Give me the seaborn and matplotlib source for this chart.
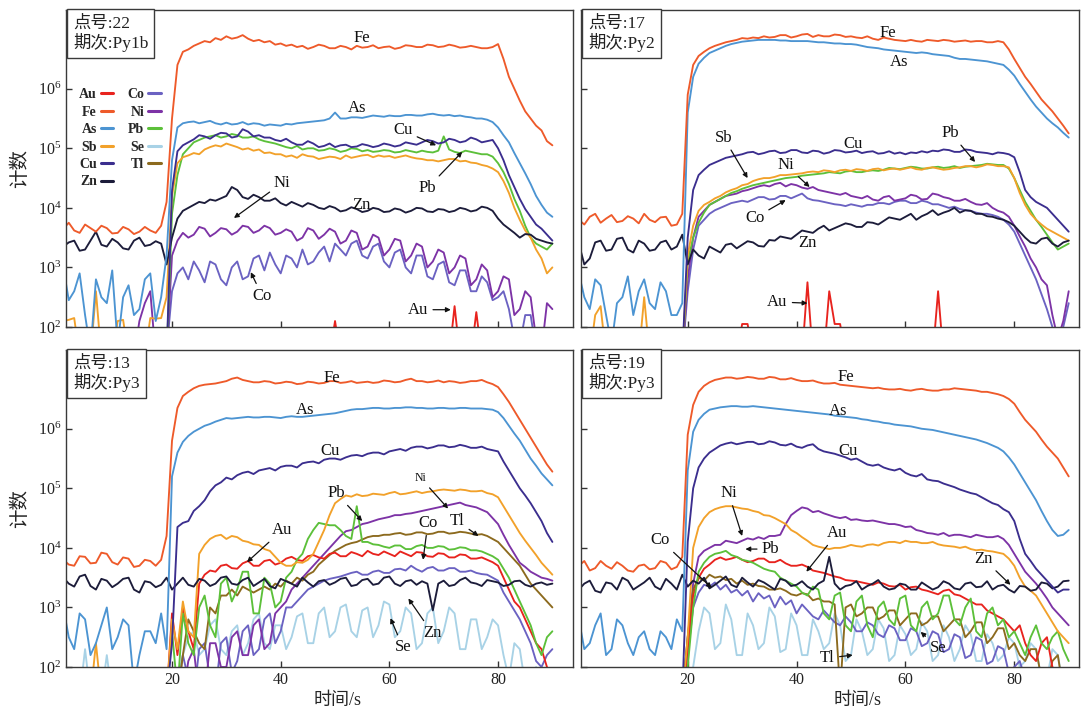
import numpy as np
import matplotlib
matplotlib.use("Agg")
import matplotlib.pyplot as plt
import seaborn as sns
from matplotlib.lines import Line2D
from matplotlib.ticker import NullLocator

# Time axis (s)
T = [0, 1, 2, 3, 4, 5, 6, 7, 8, 9, 10, 11, 12, 13, 14, 15, 16, 17, 18, 19,
     20, 21, 22, 23, 24, 25, 26, 27, 28, 29, 30, 31, 32, 33, 34, 35, 36, 37, 38, 39,
     40, 41, 42, 43, 44, 45, 46, 47, 48, 49, 50, 51, 52, 53, 54, 55, 56, 57, 58, 59,
     60, 61, 62, 63, 64, 65, 66, 67, 68, 69, 70, 71, 72, 73, 74, 75, 76, 77, 78, 79,
     80, 81, 82, 83, 84, 85, 86, 87, 88, 89, 90]

# All series are log10(counts); 1.5 = below the 10^2 floor

# ---- 点号 22 / Py1b ----
AU_22 = [1.5, 1.5, 1.5, 1.5, 1.5, 1.5, 1.5, 1.5, 1.5, 1.5,
         1.5, 1.5, 1.5, 1.5, 1.5, 1.5, 1.5, 1.5, 1.5, 1.5,
         1.5, 1.5, 1.5, 1.5, 1.5, 1.5, 1.5, 1.5, 1.5, 1.5,
         1.5, 1.5, 1.5, 1.5, 1.5, 1.5, 1.5, 1.5, 1.5, 1.5,
         1.5, 1.5, 1.5, 1.5, 1.5, 1.5, 1.5, 1.5, 1.5, 1.5,
         2.10, 1.5, 1.5, 1.5, 1.5, 1.5, 1.5, 1.5, 1.5, 1.5,
         1.5, 1.5, 1.5, 1.5, 1.5, 1.5, 1.5, 1.5, 1.5, 1.5,
         1.5, 1.5, 2.35, 1.5, 1.5, 1.5, 2.25, 1.5, 1.5, 1.5,
         1.5, 1.5, 1.5, 1.5, 1.5, 1.5, 1.5, 1.5, 1.5, 1.5, 1.5]
FE_22 = [3.65, 3.75, 3.62, 3.58, 3.72, 3.66, 3.60, 3.70, 3.66, 3.57,
         3.58, 3.68, 3.64, 3.56, 3.60, 3.68, 3.62, 3.58, 3.70, 4.10,
         5.50, 6.40, 6.62, 6.66, 6.72, 6.76, 6.80, 6.78, 6.85, 6.82,
         6.88, 6.84, 6.86, 6.90, 6.84, 6.80, 6.82, 6.78, 6.80, 6.74,
         6.76, 6.72, 6.74, 6.70, 6.72, 6.67, 6.70, 6.74, 6.72, 6.68,
         6.68, 6.72, 6.70, 6.66, 6.72, 6.69, 6.70, 6.73, 6.68, 6.70,
         6.71, 6.67, 6.69, 6.73, 6.72, 6.70, 6.70, 6.74, 6.73, 6.70,
         6.71, 6.74, 6.72, 6.69, 6.70, 6.72, 6.70, 6.68, 6.68, 6.70,
         6.75, 6.50, 6.20, 6.00, 5.80, 5.62, 5.50, 5.38, 5.30, 5.12, 5.05]
AS_22 = [3.00, 2.45, 2.60, 2.90, 2.20, 1.60, 2.80, 2.50, 2.40, 2.95,
         1.70, 2.50, 2.70, 2.20, 2.30, 2.80, 2.90, 2.10, 2.50, 3.20,
         4.80, 5.35, 5.42, 5.44, 5.45, 5.42, 5.44, 5.46, 5.42, 5.40,
         5.43, 5.40, 5.41, 5.44, 5.40, 5.42, 5.41, 5.38, 5.40, 5.39,
         5.38, 5.41, 5.40, 5.42, 5.43, 5.44, 5.45, 5.46, 5.47, 5.50,
         5.60, 5.50, 5.50, 5.52, 5.52, 5.51, 5.53, 5.55, 5.54, 5.53,
         5.55, 5.54, 5.54, 5.56, 5.56, 5.55, 5.55, 5.57, 5.58, 5.56,
         5.55, 5.56, 5.54, 5.55, 5.53, 5.52, 5.50, 5.50, 5.48, 5.44,
         5.35, 5.22, 5.10, 4.92, 4.75, 4.58, 4.40, 4.20, 4.05, 3.92, 3.85]
SB_22 = [2.10, 2.12, 2.15, 1.50, 1.50, 1.50, 2.60, 1.50, 1.50, 1.50,
         2.10, 2.12, 1.50, 1.50, 1.50, 1.50, 2.15, 2.14, 2.15, 2.50,
         4.20, 4.75, 4.85, 4.88, 4.92, 4.90, 4.98, 5.02, 5.05, 5.03,
         5.08, 5.05, 5.02, 4.98, 5.00, 4.96, 4.98, 4.92, 4.93, 4.90,
         4.90, 4.86, 4.88, 4.84, 4.90, 4.87, 4.86, 4.82, 4.84, 4.86,
         4.85, 4.82, 4.88, 4.84, 4.86, 4.88, 4.89, 4.85, 4.88, 4.86,
         4.87, 4.84, 4.86, 4.88, 4.85, 4.83, 4.82, 4.80, 4.80, 4.78,
         4.80, 4.82, 4.82, 4.78, 4.79, 4.76, 4.75, 4.72, 4.70, 4.66,
         4.60, 4.45, 4.25, 4.00, 3.80, 3.62, 3.50, 3.30, 3.15, 2.90, 3.00]
CU_22 = [1.5, 1.5, 1.5, 1.5, 1.5, 1.5, 1.5, 1.5, 1.5, 1.5,
         1.5, 1.5, 1.5, 1.5, 1.5, 1.5, 1.5, 1.5, 1.5, 1.5,
         4.30, 4.95, 5.05, 5.10, 5.15, 5.22, 5.20, 5.16, 5.22, 5.26,
         5.25, 5.18, 5.20, 5.32, 5.28, 5.20, 5.22, 5.18, 5.18, 5.14,
         5.12, 5.16, 5.10, 5.06, 5.06, 5.12, 5.08, 5.02, 5.04, 5.08,
         5.02, 5.05, 5.06, 5.02, 5.03, 5.07, 5.05, 5.02, 5.04, 5.08,
         5.06, 5.03, 5.05, 5.10, 5.08, 5.06, 5.10, 5.14, 5.12, 5.08,
         5.10, 5.16, 5.14, 5.10, 5.12, 5.18, 5.15, 5.10, 5.12, 5.14,
         5.00, 4.80, 4.55, 4.35, 4.15, 3.98, 3.85, 3.72, 3.65, 3.55, 3.45]
ZN_22 = [3.35, 3.42, 3.45, 3.28, 3.30, 3.45, 3.60, 3.38, 3.35, 3.48,
         3.42, 3.32, 3.30, 3.45, 3.50, 3.36, 3.38, 3.44, 3.40, 3.05,
         3.50, 3.82, 3.95, 4.00, 4.05, 4.10, 4.08, 4.14, 4.12, 4.16,
         4.20, 4.35, 4.30, 4.18, 4.15, 4.22, 4.18, 4.12, 4.12, 4.16,
         4.08, 4.04, 4.10, 4.06, 4.02, 4.08, 4.05, 4.00, 3.98, 4.03,
         4.00, 3.94, 3.96, 4.01, 3.98, 3.93, 3.95, 4.00, 3.98, 3.93,
         3.94, 3.99, 3.97, 3.92, 3.95, 4.00, 3.99, 3.94, 3.93, 3.98,
         3.97, 3.93, 3.95, 4.00, 3.98, 3.94, 3.96, 4.02, 4.00, 3.95,
         3.82, 3.72, 3.65, 3.58, 3.50, 3.56, 3.55, 3.48, 3.45, 3.42, 3.40]
CO_22 = [1.5, 1.5, 1.5, 1.5, 1.5, 1.5, 1.5, 1.5, 1.5, 1.5,
         1.5, 1.5, 1.5, 1.5, 1.5, 1.5, 1.5, 1.5, 1.5, 1.60,
         2.60, 2.90, 3.00, 2.80, 3.10, 2.95, 2.75, 3.10, 3.05, 2.80,
         2.70, 3.00, 3.10, 2.80, 2.85, 3.15, 3.20, 2.95, 3.25, 3.05,
         2.90, 3.20, 3.15, 3.00, 3.30, 3.05, 3.10, 3.25, 3.35, 3.10,
         3.40, 3.30, 3.20, 3.40, 3.45, 3.20, 3.15, 3.35, 3.40, 3.10,
         3.00, 3.25, 3.30, 3.00, 2.90, 3.20, 3.20, 2.85, 2.80, 3.05,
         3.10, 2.75, 2.70, 2.95, 2.95, 2.60, 2.60, 2.85, 2.75, 2.45,
         2.50, 2.60, 2.30, 1.80, 1.70, 2.20, 2.20, 1.60, 1.50, 1.50, 1.50]
NI_22 = [1.5, 1.5, 1.5, 1.5, 1.5, 1.5, 1.5, 1.5, 1.5, 1.5,
         1.5, 1.5, 1.5, 1.5, 2.10, 2.40, 2.60, 1.50, 1.50, 1.50,
         3.20, 3.45, 3.58, 3.50, 3.55, 3.68, 3.65, 3.52, 3.58, 3.66,
         3.64, 3.55, 3.60, 3.70, 3.68, 3.58, 3.62, 3.70, 3.66, 3.55,
         3.58, 3.64, 3.60, 3.45, 3.50, 3.66, 3.62, 3.48, 3.55, 3.65,
         3.60, 3.40, 3.45, 3.62, 3.58, 3.30, 3.35, 3.55, 3.50, 3.20,
         3.30, 3.48, 3.45, 3.10, 3.20, 3.40, 3.35, 3.00, 3.10, 3.30,
         3.25, 2.90, 3.00, 3.20, 3.15, 2.70, 2.80, 3.05, 2.95, 2.50,
         2.60, 2.85, 2.80, 2.20, 2.30, 2.60, 2.50, 1.80, 1.60, 2.40, 2.30]
PB_22 = [1.5, 1.5, 1.5, 1.5, 1.5, 1.5, 1.5, 1.5, 1.5, 1.5,
         1.5, 1.5, 1.5, 1.5, 1.5, 1.5, 1.5, 1.5, 1.5, 1.5,
         3.90, 4.55, 4.90, 5.00, 5.10, 5.14, 5.18, 5.20, 5.22, 5.18,
         5.20, 5.24, 5.22, 5.18, 5.18, 5.20, 5.15, 5.12, 5.10, 5.08,
         5.05, 5.02, 5.00, 5.04, 4.98, 5.00, 5.00, 4.96, 4.97, 5.00,
         4.98, 4.94, 4.96, 5.00, 4.99, 4.95, 4.97, 4.94, 4.95, 4.97,
         4.96, 4.93, 4.94, 4.97, 4.95, 4.93, 4.96, 4.94, 4.93, 4.96,
         5.20, 4.98, 4.94, 4.92, 4.96, 4.94, 4.92, 4.90, 4.90, 4.86,
         4.75, 4.60, 4.40, 4.15, 3.95, 3.70, 3.50, 3.40, 3.35, 3.30, 3.40]

# ---- 点号 17 / Py2 ----
AU_17 = [1.5, 1.5, 1.5, 1.5, 1.5, 1.5, 1.5, 1.5, 1.5, 1.5,
         1.5, 1.5, 1.5, 1.5, 1.5, 1.5, 1.5, 1.5, 1.5, 1.5,
         1.5, 1.5, 1.5, 1.5, 1.5, 1.5, 1.5, 1.5, 1.5, 1.5,
         2.05, 2.05, 1.5, 1.5, 1.5, 1.5, 1.5, 1.5, 1.5, 1.5,
         1.5, 1.5, 2.75, 1.5, 1.5, 1.5, 2.60, 2.05, 2.05, 1.5,
         1.5, 1.5, 1.5, 1.5, 1.5, 1.5, 1.5, 1.5, 1.5, 1.5,
         1.5, 1.5, 1.5, 1.5, 1.5, 1.5, 2.60, 1.5, 1.5, 1.5,
         1.5, 1.5, 1.5, 1.5, 1.5, 1.5, 1.5, 1.5, 1.5, 1.5,
         1.5, 1.5, 1.5, 1.5, 1.5, 1.5, 1.5, 1.5, 1.5, 1.5, 1.5]
FE_17 = [3.80, 3.72, 3.85, 3.90, 3.75, 3.82, 3.88, 3.76, 3.78, 3.86,
         3.82, 3.74, 3.90, 3.80, 3.76, 3.84, 3.85, 3.70, 3.72, 3.90,
         5.90, 6.40, 6.55, 6.62, 6.68, 6.72, 6.75, 6.78, 6.80, 6.82,
         6.85, 6.84, 6.86, 6.85, 6.88, 6.86, 6.87, 6.90, 6.90, 6.86,
         6.88, 6.91, 6.92, 6.87, 6.90, 6.88, 6.88, 6.91, 6.90, 6.87,
         6.88, 6.86, 6.85, 6.88, 6.84, 6.82, 6.86, 6.84, 6.82, 6.81,
         6.80, 6.82, 6.80, 6.79, 6.82, 6.81, 6.80, 6.82, 6.81, 6.79,
         6.80, 6.81, 6.79, 6.80, 6.80, 6.78, 6.78, 6.80, 6.78, 6.66,
         6.50, 6.35, 6.20, 6.08, 5.95, 5.82, 5.72, 5.62, 5.50, 5.38, 5.25]
AS_17 = [2.90, 2.50, 2.30, 2.80, 2.70, 2.20, 1.70, 2.40, 2.50, 2.85,
         2.20, 2.60, 2.80, 2.40, 2.30, 2.75, 2.60, 2.20, 2.20, 2.40,
         5.60, 6.20, 6.42, 6.52, 6.60, 6.64, 6.68, 6.72, 6.75, 6.77,
         6.79, 6.80, 6.81, 6.82, 6.82, 6.82, 6.82, 6.81, 6.81, 6.80,
         6.80, 6.80, 6.80, 6.79, 6.78, 6.78, 6.77, 6.76, 6.76, 6.75,
         6.75, 6.74, 6.72, 6.70, 6.69, 6.68, 6.66, 6.65, 6.64, 6.63,
         6.62, 6.61, 6.60, 6.61, 6.60, 6.58, 6.57, 6.56, 6.55, 6.52,
         6.50, 6.50, 6.49, 6.48, 6.47, 6.46, 6.44, 6.42, 6.40, 6.32,
         6.22, 6.08, 5.95, 5.82, 5.70, 5.60, 5.50, 5.42, 5.35, 5.26, 5.18]
SB_17 = [1.50, 1.50, 1.50, 2.20, 2.35, 1.50, 1.50, 1.50, 1.50, 1.50,
         1.50, 1.50, 2.50, 1.50, 1.50, 1.50, 1.50, 1.50, 1.50, 1.50,
         3.20, 3.70, 3.95, 4.05, 4.10, 4.16, 4.20, 4.26, 4.30, 4.33,
         4.38, 4.40, 4.45, 4.48, 4.50, 4.50, 4.52, 4.55, 4.55, 4.56,
         4.57, 4.58, 4.60, 4.61, 4.60, 4.63, 4.62, 4.60, 4.63, 4.64,
         4.62, 4.65, 4.64, 4.62, 4.65, 4.66, 4.63, 4.65, 4.66, 4.64,
         4.66, 4.68, 4.65, 4.64, 4.67, 4.68, 4.66, 4.64, 4.65, 4.67,
         4.68, 4.70, 4.70, 4.68, 4.70, 4.73, 4.72, 4.70, 4.70, 4.68,
         4.50, 4.25, 4.05, 3.90, 3.80, 3.72, 3.65, 3.60, 3.55, 3.50, 3.45]
CU_17 = [1.5, 1.5, 1.5, 1.5, 1.5, 1.5, 1.5, 1.5, 1.5, 1.5,
         1.5, 1.5, 1.5, 1.5, 1.5, 1.5, 1.5, 1.5, 1.5, 1.5,
         3.50, 4.30, 4.55, 4.64, 4.72, 4.76, 4.80, 4.84, 4.86, 4.88,
         4.90, 4.93, 4.94, 4.90, 4.92, 4.95, 4.96, 4.92, 4.93, 4.97,
         4.97, 4.93, 4.92, 4.96, 4.95, 4.91, 4.93, 4.97, 4.96, 4.93,
         4.94, 4.96, 4.92, 4.94, 4.95, 4.91, 4.92, 4.95, 4.91, 4.93,
         4.90, 4.93, 4.92, 4.95, 4.93, 4.96, 4.95, 4.98, 4.97, 4.94,
         4.94, 4.98, 4.97, 4.94, 4.93, 4.92, 4.90, 4.93, 4.92, 4.90,
         4.85, 4.60, 4.30, 4.18, 4.10, 4.05, 4.00, 3.90, 3.80, 3.70, 3.60]
ZN_17 = [3.40, 3.05, 3.15, 3.42, 3.45, 3.28, 3.30, 3.48, 3.50, 3.30,
         3.25, 3.45, 3.40, 3.28, 3.30, 3.42, 3.45, 3.30, 3.35, 3.55,
         3.05, 3.30, 3.20, 3.15, 3.35, 3.30, 3.25, 3.38, 3.40, 3.32,
         3.38, 3.44, 3.42, 3.36, 3.35, 3.46, 3.45, 3.52, 3.50, 3.48,
         3.55, 3.62, 3.60, 3.58, 3.65, 3.70, 3.62, 3.66, 3.70, 3.74,
         3.72, 3.68, 3.68, 3.76, 3.75, 3.72, 3.78, 3.84, 3.82, 3.80,
         3.85, 3.90, 3.80, 3.86, 3.90, 3.96, 3.88, 3.92, 3.95, 4.00,
         3.92, 3.96, 3.95, 3.90, 3.90, 3.86, 3.85, 3.82, 3.80, 3.76,
         3.70, 3.60, 3.50, 3.42, 3.40, 3.48, 3.50, 3.40, 3.35, 3.42, 3.45]
CO_17 = [1.5, 1.5, 1.5, 1.5, 1.5, 1.5, 1.5, 1.5, 1.5, 1.5,
         1.5, 1.5, 1.5, 1.5, 1.5, 1.5, 1.5, 1.5, 1.5, 1.5,
         2.60, 3.30, 3.70, 3.80, 3.90, 3.96, 4.00, 4.04, 4.08, 4.10,
         4.12, 4.10, 4.14, 4.18, 4.18, 4.14, 4.15, 4.20, 4.20, 4.16,
         4.20, 4.24, 4.16, 4.13, 4.12, 4.10, 4.08, 4.06, 4.05, 4.03,
         4.06, 4.04, 4.02, 4.05, 4.05, 4.08, 4.08, 4.06, 4.10, 4.12,
         4.12, 4.08, 4.08, 4.12, 4.10, 4.06, 4.06, 4.03, 4.00, 4.02,
         3.98, 3.96, 3.95, 3.92, 3.90, 3.90, 3.88, 3.85, 3.80, 3.72,
         3.60, 3.40, 3.20, 3.00, 2.80, 2.55, 2.30, 2.00, 1.70, 2.00, 2.40]
NI_17 = [1.5, 1.5, 1.5, 1.5, 1.5, 1.5, 1.5, 1.5, 1.5, 1.5,
         1.5, 1.5, 1.5, 1.5, 1.5, 1.5, 1.5, 1.5, 1.5, 1.5,
         2.80, 3.50, 3.85, 3.95, 4.05, 4.10, 4.15, 4.20, 4.22, 4.24,
         4.28, 4.30, 4.33, 4.36, 4.38, 4.36, 4.40, 4.42, 4.36, 4.40,
         4.38, 4.34, 4.32, 4.35, 4.30, 4.28, 4.26, 4.24, 4.22, 4.25,
         4.20, 4.18, 4.16, 4.20, 4.14, 4.12, 4.18, 4.20, 4.12, 4.14,
         4.16, 4.22, 4.20, 4.14, 4.15, 4.24, 4.22, 4.18, 4.16, 4.12,
         4.12, 4.15, 4.10, 4.06, 4.05, 4.08, 4.00, 3.95, 3.92, 3.85,
         3.70, 3.52, 3.35, 3.15, 3.00, 2.80, 2.70, 2.20, 1.80, 2.10, 2.60]
PB_17 = [1.5, 1.5, 1.5, 1.5, 1.5, 1.5, 1.5, 1.5, 1.5, 1.5,
         1.5, 1.5, 1.5, 1.5, 1.5, 1.5, 1.5, 1.5, 1.5, 1.5,
         3.10, 3.50, 3.75, 3.92, 4.05, 4.10, 4.15, 4.20, 4.25, 4.28,
         4.32, 4.35, 4.38, 4.40, 4.42, 4.44, 4.46, 4.48, 4.50, 4.51,
         4.52, 4.54, 4.55, 4.56, 4.57, 4.58, 4.60, 4.59, 4.58, 4.61,
         4.62, 4.60, 4.60, 4.62, 4.63, 4.62, 4.64, 4.67, 4.66, 4.65,
         4.67, 4.69, 4.68, 4.66, 4.66, 4.68, 4.69, 4.67, 4.68, 4.70,
         4.67, 4.69, 4.70, 4.71, 4.72, 4.74, 4.73, 4.72, 4.72, 4.66,
         4.50, 4.30, 4.10, 3.95, 3.80, 3.68, 3.55, 3.42, 3.30, 3.35, 3.40]

# ---- 点号 13 / Py3 ----
AU_13 = [1.5, 1.5, 1.5, 1.5, 1.5, 1.5, 1.5, 1.5, 1.5, 1.5,
         1.5, 1.5, 1.5, 1.5, 1.5, 1.5, 1.5, 1.5, 1.5, 1.5,
         2.90, 2.20, 3.00, 2.60, 2.30, 3.40, 3.55, 3.62, 3.60, 3.70,
         3.72, 3.66, 3.65, 3.74, 3.78, 3.70, 3.70, 3.78, 3.80, 3.72,
         3.75, 3.82, 3.85, 3.80, 3.78, 3.86, 3.88, 3.84, 3.82, 3.90,
         3.92, 3.86, 3.86, 3.93, 3.90, 3.86, 3.95, 3.90, 3.88, 3.94,
         3.90, 3.86, 3.94, 3.90, 3.86, 3.93, 3.92, 3.86, 3.85, 3.91,
         3.90, 3.84, 3.84, 3.89, 3.88, 3.82, 3.82, 3.84, 3.80, 3.76,
         3.70, 3.50, 3.30, 3.10, 3.00, 2.80, 2.60, 2.40, 2.30, 2.00, 1.80]
FE_13 = [3.80, 3.72, 3.70, 3.86, 3.85, 3.74, 3.75, 3.92, 3.90, 3.76,
         3.72, 3.84, 3.82, 3.68, 3.70, 3.80, 3.78, 3.70, 3.80, 4.20,
         5.80, 6.35, 6.55, 6.62, 6.68, 6.72, 6.74, 6.75, 6.76, 6.78,
         6.80, 6.84, 6.86, 6.82, 6.80, 6.78, 6.78, 6.80, 6.79, 6.76,
         6.77, 6.79, 6.78, 6.75, 6.76, 6.79, 6.78, 6.76, 6.77, 6.80,
         6.80, 6.77, 6.78, 6.80, 6.77, 6.78, 6.79, 6.77, 6.78, 6.81,
         6.80, 6.78, 6.79, 6.82, 6.84, 6.80, 6.80, 6.78, 6.79, 6.81,
         6.78, 6.80, 6.79, 6.77, 6.78, 6.80, 6.80, 6.82, 6.78, 6.75,
         6.70, 6.58, 6.45, 6.30, 6.15, 6.00, 5.85, 5.70, 5.55, 5.40, 5.28]
AS_13 = [3.00, 2.50, 2.30, 2.90, 2.80, 2.20, 2.40, 2.70, 3.00, 2.30,
         2.50, 2.80, 2.70, 1.70, 2.20, 2.60, 2.60, 2.40, 2.90, 2.30,
         5.20, 5.60, 5.78, 5.88, 5.95, 6.00, 6.05, 6.08, 6.12, 6.15,
         6.18, 6.17, 6.18, 6.19, 6.20, 6.19, 6.19, 6.20, 6.20, 6.19,
         6.18, 6.20, 6.21, 6.20, 6.20, 6.21, 6.22, 6.23, 6.24, 6.25,
         6.26, 6.28, 6.30, 6.32, 6.33, 6.33, 6.34, 6.35, 6.35, 6.34,
         6.34, 6.35, 6.35, 6.36, 6.36, 6.35, 6.35, 6.34, 6.34, 6.35,
         6.35, 6.34, 6.34, 6.35, 6.35, 6.34, 6.34, 6.34, 6.33, 6.32,
         6.28, 6.18, 6.05, 5.92, 5.80, 5.65, 5.50, 5.38, 5.25, 5.15, 5.05]
SB_13 = [1.50, 1.50, 1.50, 1.50, 1.50, 1.50, 2.40, 1.50, 1.50, 1.50,
         1.50, 1.50, 1.50, 1.50, 1.50, 1.50, 1.50, 1.50, 1.50, 1.50,
         2.80, 2.30, 3.10, 2.60, 2.50, 3.90, 4.05, 4.15, 4.20, 4.22,
         4.15, 4.20, 4.18, 4.12, 4.10, 4.06, 4.05, 3.98, 3.95, 3.85,
         3.75, 3.70, 3.70, 3.76, 3.75, 3.80, 3.90, 4.10, 4.30, 4.55,
         4.75, 4.82, 4.88, 4.86, 4.90, 4.87, 4.88, 4.91, 4.90, 4.89,
         4.92, 4.94, 4.90, 4.91, 4.93, 4.95, 4.92, 4.94, 4.95, 4.97,
         4.98, 4.97, 4.96, 4.98, 4.97, 4.95, 4.95, 4.96, 4.92, 4.90,
         4.85, 4.70, 4.55, 4.40, 4.25, 4.12, 4.00, 3.88, 3.75, 3.65, 3.55]
CU_13 = [1.5, 1.5, 1.5, 1.5, 1.5, 1.5, 1.5, 1.5, 1.5, 1.5,
         1.5, 1.5, 1.5, 1.5, 1.5, 1.5, 1.5, 1.5, 1.5, 1.5,
         2.40, 4.35, 4.42, 4.45, 4.62, 4.70, 4.80, 4.95, 5.05, 5.10,
         5.18, 5.15, 5.22, 5.26, 5.28, 5.24, 5.30, 5.32, 5.34, 5.30,
         5.36, 5.38, 5.38, 5.35, 5.42, 5.44, 5.45, 5.42, 5.48, 5.50,
         5.50, 5.48, 5.52, 5.55, 5.56, 5.54, 5.58, 5.60, 5.60, 5.57,
         5.62, 5.64, 5.66, 5.63, 5.68, 5.70, 5.70, 5.67, 5.69, 5.72,
         5.72, 5.69, 5.70, 5.73, 5.71, 5.68, 5.68, 5.70, 5.66, 5.64,
         5.62, 5.45, 5.30, 5.15, 5.00, 4.88, 4.75, 4.60, 4.45, 4.25, 4.10]
ZN_13 = [3.50, 3.40, 3.35, 3.52, 3.55, 3.36, 3.30, 3.48, 3.45, 3.34,
         3.40, 3.48, 3.50, 3.30, 3.25, 3.44, 3.42, 3.34, 3.38, 3.50,
         3.30, 3.40, 3.50, 3.38, 3.35, 3.48, 3.45, 3.36, 3.40, 3.50,
         3.52, 3.40, 3.38, 3.46, 3.50, 3.36, 3.42, 3.48, 3.36, 3.32,
         3.48, 3.44, 3.40, 3.35, 3.50, 3.42, 3.35, 3.44, 3.46, 3.38,
         3.42, 3.48, 3.50, 3.36, 3.38, 3.46, 3.48, 3.38, 3.40, 3.50,
         3.52, 3.40, 3.36, 3.44, 3.46, 3.38, 3.44, 3.40, 2.95, 3.40,
         3.45, 3.36, 3.38, 3.46, 3.50, 3.42, 3.40, 3.36, 3.46, 3.44,
         3.42, 3.36, 3.38, 3.44, 3.45, 3.38, 3.35, 3.40, 3.42, 3.38, 3.40]
CO_13 = [1.5, 1.5, 1.5, 1.5, 1.5, 1.5, 1.5, 1.5, 1.5, 1.5,
         1.5, 1.5, 1.5, 1.5, 1.5, 1.5, 1.5, 1.5, 1.5, 1.5,
         1.50, 1.50, 2.20, 1.80, 1.50, 2.30, 2.40, 1.80, 1.60, 2.40,
         2.50, 1.90, 2.10, 2.60, 2.70, 2.20, 2.30, 2.80, 2.90, 2.40,
         2.60, 3.00, 3.00, 3.10, 3.20, 3.30, 3.35, 3.40, 3.45, 3.48,
         3.50, 3.52, 3.55, 3.58, 3.60, 3.55, 3.55, 3.60, 3.62, 3.58,
         3.58, 3.64, 3.65, 3.62, 3.70, 3.64, 3.60, 3.66, 3.68, 3.62,
         3.62, 3.66, 3.66, 3.60, 3.60, 3.62, 3.58, 3.56, 3.55, 3.50,
         3.45, 3.25, 3.10, 2.95, 2.80, 2.60, 2.40, 2.10, 2.00, 2.20, 2.30]
NI_13 = [1.5, 1.5, 1.5, 1.5, 1.5, 1.5, 1.5, 1.5, 1.5, 1.5,
         1.5, 1.5, 1.5, 1.5, 1.5, 1.5, 1.5, 1.5, 1.5, 1.5,
         1.50, 1.50, 1.50, 2.10, 2.30, 1.50, 1.50, 2.40, 2.40, 2.00,
         2.00, 2.50, 2.60, 2.20, 2.20, 2.70, 2.80, 2.30, 2.40, 2.90,
         3.00, 3.10, 3.30, 3.40, 3.50, 3.60, 3.70, 3.80, 3.90, 4.00,
         4.10, 4.20, 4.28, 4.30, 4.35, 4.40, 4.42, 4.45, 4.48, 4.50,
         4.52, 4.55, 4.55, 4.57, 4.58, 4.60, 4.62, 4.64, 4.66, 4.68,
         4.70, 4.72, 4.74, 4.76, 4.72, 4.70, 4.68, 4.64, 4.60, 4.50,
         4.40, 4.22, 4.05, 3.90, 3.75, 3.68, 3.60, 3.55, 3.50, 3.48, 3.45]
PB_13 = [1.5, 1.5, 1.5, 1.5, 1.5, 1.5, 1.5, 1.5, 1.5, 1.5,
         1.5, 1.5, 1.5, 1.5, 1.5, 1.5, 1.5, 1.5, 1.5, 1.5,
         2.60, 1.60, 2.90, 2.40, 2.20, 3.00, 3.20, 2.70, 2.50, 3.40,
         3.50, 3.10, 3.30, 3.60, 3.60, 2.90, 2.90, 3.50, 3.40, 3.00,
         3.10, 3.50, 3.60, 3.80, 3.90, 4.15, 4.30, 4.42, 4.40, 4.38,
         4.38, 4.30, 4.20, 4.15, 4.70, 4.10, 4.10, 4.06, 4.05, 4.02,
         4.00, 4.04, 4.04, 3.98, 3.98, 4.03, 4.05, 4.00, 4.00, 4.03,
         4.02, 3.97, 3.98, 4.01, 4.00, 3.96, 3.96, 3.94, 3.90, 3.86,
         3.80, 3.65, 3.50, 3.30, 3.10, 2.90, 2.70, 2.40, 2.20, 2.50, 2.60]
SE_13 = [1.50, 1.50, 1.50, 1.50, 2.30, 1.50, 1.50, 1.50, 2.20, 1.50,
         1.50, 1.50, 1.50, 1.50, 1.50, 1.50, 1.50, 1.50, 1.50, 1.50,
         1.50, 1.80, 2.20, 2.50, 2.60, 2.20, 2.30, 2.70, 2.80, 2.30,
         2.20, 2.60, 2.70, 2.20, 2.40, 2.80, 2.90, 2.40, 2.30, 2.70,
         2.70, 2.30, 2.50, 2.85, 2.90, 2.40, 2.40, 2.90, 3.00, 2.50,
         2.60, 3.00, 3.05, 2.60, 2.50, 2.95, 3.00, 2.50, 2.70, 3.10,
         3.05, 2.50, 2.60, 3.00, 2.90, 2.30, 2.40, 2.90, 3.00, 2.40,
         2.60, 3.00, 2.90, 2.30, 2.30, 2.80, 2.80, 2.30, 2.50, 2.80,
         2.70, 2.20, 1.80, 2.40, 2.30, 1.70, 1.50, 2.00, 1.80, 1.50, 1.50]
TL_13 = [1.5, 1.5, 1.5, 1.5, 1.5, 1.5, 1.5, 1.5, 1.5, 1.5,
         1.5, 1.5, 1.5, 1.5, 1.5, 1.5, 1.5, 1.5, 1.5, 1.5,
         1.50, 1.50, 2.20, 2.80, 2.60, 2.40, 2.30, 3.00, 2.90, 3.20,
         3.20, 3.30, 3.20, 3.35, 3.30, 3.25, 3.30, 3.35, 3.30, 3.40,
         3.35, 3.45, 3.40, 3.50, 3.45, 3.55, 3.60, 3.72, 3.80, 3.88,
         3.95, 4.00, 4.05, 4.08, 4.10, 4.14, 4.18, 4.20, 4.20, 4.22,
         4.22, 4.24, 4.25, 4.22, 4.23, 4.26, 4.26, 4.23, 4.24, 4.27,
         4.27, 4.24, 4.25, 4.27, 4.26, 4.24, 4.22, 4.23, 4.20, 4.15,
         4.10, 4.00, 3.90, 3.80, 3.70, 3.55, 3.40, 3.30, 3.20, 3.10, 3.00]

# ---- 点号 19 / Py3 ----
AU_19 = [1.5, 1.5, 1.5, 1.5, 1.5, 1.5, 1.5, 1.5, 1.5, 1.5,
         1.5, 1.5, 1.5, 1.5, 1.5, 1.5, 1.5, 1.5, 1.5, 1.5,
         2.30, 3.20, 3.50, 3.65, 3.72, 3.80, 3.84, 3.80, 3.82, 3.85,
         3.80, 3.76, 3.78, 3.82, 3.82, 3.76, 3.76, 3.80, 3.74, 3.70,
         3.70, 3.72, 3.68, 3.62, 3.60, 3.58, 3.55, 3.52, 3.50, 3.46,
         3.45, 3.44, 3.42, 3.40, 3.38, 3.42, 3.40, 3.36, 3.35, 3.38,
         3.30, 3.34, 3.35, 3.30, 3.28, 3.25, 3.22, 3.28, 3.30, 3.22,
         3.20, 3.15, 3.10, 3.05, 3.05, 2.95, 2.90, 2.85, 2.80, 2.70,
         2.60, 2.70, 2.40, 2.20, 2.10, 2.40, 2.50, 2.00, 1.90, 1.70, 1.60]
FE_19 = [3.70, 3.78, 3.62, 3.66, 3.78, 3.70, 3.65, 3.76, 3.70, 3.62,
         3.60, 3.70, 3.72, 3.64, 3.66, 3.78, 3.75, 3.64, 3.68, 3.85,
         5.90, 6.40, 6.62, 6.72, 6.78, 6.82, 6.84, 6.86, 6.86, 6.84,
         6.85, 6.87, 6.86, 6.84, 6.84, 6.87, 6.86, 6.83, 6.83, 6.85,
         6.82, 6.80, 6.80, 6.81, 6.78, 6.76, 6.76, 6.77, 6.74, 6.73,
         6.72, 6.71, 6.70, 6.69, 6.68, 6.69, 6.67, 6.66, 6.66, 6.67,
         6.65, 6.64, 6.66, 6.67, 6.65, 6.64, 6.64, 6.66, 6.66, 6.68,
         6.67, 6.66, 6.65, 6.64, 6.62, 6.62, 6.60, 6.58, 6.55, 6.50,
         6.42, 6.28, 6.15, 6.05, 5.95, 5.82, 5.70, 5.60, 5.50, 5.35, 5.20]
AS_19 = [2.80, 2.30, 2.40, 2.70, 2.90, 2.20, 2.30, 2.80, 2.70, 2.40,
         2.20, 2.50, 2.60, 2.30, 2.20, 2.60, 2.50, 2.30, 2.80, 2.60,
         5.30, 5.95, 6.15, 6.25, 6.32, 6.34, 6.36, 6.37, 6.38, 6.38,
         6.37, 6.37, 6.38, 6.37, 6.36, 6.35, 6.34, 6.33, 6.32, 6.31,
         6.30, 6.29, 6.28, 6.27, 6.26, 6.25, 6.24, 6.22, 6.21, 6.20,
         6.19, 6.18, 6.16, 6.15, 6.13, 6.12, 6.10, 6.09, 6.07, 6.06,
         6.05, 6.04, 6.02, 6.00, 5.99, 5.98, 5.96, 5.94, 5.92, 5.90,
         5.88, 5.86, 5.84, 5.82, 5.79, 5.76, 5.72, 5.68, 5.62, 5.52,
         5.40, 5.25, 5.10, 4.95, 4.80, 4.62, 4.45, 4.30, 4.20, 4.22, 4.30]
SB_19 = [1.5, 1.5, 1.5, 1.5, 1.5, 1.5, 1.5, 1.5, 1.5, 1.5,
         1.5, 1.5, 1.5, 1.5, 1.5, 1.5, 1.5, 1.5, 1.5, 1.5,
         2.50, 4.00, 4.35, 4.50, 4.60, 4.65, 4.68, 4.70, 4.70, 4.68,
         4.66, 4.65, 4.62, 4.60, 4.55, 4.54, 4.50, 4.45, 4.40, 4.30,
         4.25, 4.18, 4.12, 4.05, 4.02, 4.00, 3.98, 4.00, 4.00, 4.02,
         4.05, 4.03, 4.02, 4.05, 4.06, 4.04, 4.08, 4.10, 4.10, 4.08,
         4.12, 4.10, 4.10, 4.08, 4.08, 4.10, 4.06, 4.04, 4.03, 4.02,
         4.00, 4.02, 3.98, 3.96, 3.97, 3.95, 3.94, 3.92, 3.90, 3.82,
         3.70, 3.50, 3.35, 3.28, 3.20, 3.05, 2.90, 2.75, 2.60, 2.50, 2.40]
CU_19 = [1.5, 1.5, 1.5, 1.5, 1.5, 1.5, 1.5, 1.5, 1.5, 1.5,
         1.5, 1.5, 1.5, 1.5, 1.5, 1.5, 1.5, 1.5, 1.5, 1.5,
         4.10, 5.00, 5.35, 5.50, 5.60, 5.66, 5.72, 5.75, 5.77, 5.74,
         5.76, 5.78, 5.78, 5.74, 5.75, 5.79, 5.77, 5.73, 5.72, 5.75,
         5.70, 5.68, 5.72, 5.74, 5.66, 5.62, 5.60, 5.58, 5.55, 5.52,
         5.48, 5.50, 5.45, 5.40, 5.38, 5.40, 5.35, 5.32, 5.30, 5.33,
         5.26, 5.22, 5.20, 5.24, 5.15, 5.13, 5.12, 5.08, 5.05, 5.02,
         4.98, 4.95, 4.92, 4.90, 4.85, 4.80, 4.75, 4.72, 4.65, 4.60,
         4.45, 4.15, 3.90, 3.78, 3.65, 3.55, 3.45, 3.35, 3.25, 3.30, 3.30]
ZN_19 = [3.30, 3.40, 3.45, 3.28, 3.25, 3.42, 3.40, 3.30, 3.50, 3.45,
         3.30, 3.36, 3.42, 3.50, 3.35, 3.30, 3.48, 3.40, 3.30, 3.55,
         3.35, 3.45, 3.40, 3.50, 3.32, 3.38, 3.45, 3.52, 3.38, 3.34,
         3.50, 3.42, 3.35, 3.46, 3.42, 3.36, 3.30, 3.48, 3.45, 3.36,
         3.38, 3.44, 3.35, 3.30, 3.40, 3.45, 3.85, 3.40, 3.30, 3.36,
         3.38, 3.44, 3.30, 3.36, 3.40, 3.46, 3.35, 3.30, 3.32, 3.40,
         3.38, 3.30, 3.30, 3.42, 3.36, 3.30, 3.34, 3.44, 3.40, 3.32,
         3.30, 3.40, 3.42, 3.34, 3.35, 3.44, 3.30, 3.36, 3.38, 3.30,
         3.25, 3.36, 3.35, 3.28, 3.30, 3.42, 3.40, 3.32, 3.35, 3.44, 3.45]
CO_19 = [1.5, 1.5, 1.5, 1.5, 1.5, 1.5, 1.5, 1.5, 1.5, 1.5,
         1.5, 1.5, 1.5, 1.5, 1.5, 1.5, 1.5, 1.5, 1.5, 1.5,
         2.20, 3.00, 3.25, 3.38, 3.35, 3.42, 3.30, 3.38, 3.25, 3.30,
         3.20, 3.28, 3.10, 3.24, 3.15, 3.20, 3.00, 3.18, 3.05, 3.12,
         2.90, 3.05, 2.95, 2.85, 2.80, 2.95, 2.85, 2.75, 2.70, 2.85,
         2.75, 2.60, 2.60, 2.75, 2.70, 2.55, 2.50, 2.70, 2.65, 2.45,
         2.45, 2.65, 2.60, 2.35, 2.40, 2.60, 2.55, 2.25, 2.30, 2.55,
         2.50, 2.15, 2.20, 2.50, 2.45, 2.05, 2.10, 2.35, 2.30, 1.90,
         2.00, 2.10, 1.80, 1.70, 1.60, 1.50, 1.50, 1.50, 1.50, 1.50, 1.50]
NI_19 = [1.5, 1.5, 1.5, 1.5, 1.5, 1.5, 1.5, 1.5, 1.5, 1.5,
         1.5, 1.5, 1.5, 1.5, 1.5, 1.5, 1.5, 1.5, 1.5, 1.5,
         2.50, 3.40, 3.85, 3.95, 4.00, 4.05, 4.05, 4.12, 4.10, 4.08,
         4.12, 4.16, 4.14, 4.18, 4.15, 4.20, 4.20, 4.22, 4.40, 4.55,
         4.62, 4.68, 4.66, 4.60, 4.62, 4.58, 4.55, 4.52, 4.50, 4.52,
         4.47, 4.48, 4.46, 4.45, 4.46, 4.44, 4.42, 4.40, 4.40, 4.38,
         4.35, 4.36, 4.30, 4.28, 4.25, 4.24, 4.22, 4.25, 4.20, 4.22,
         4.22, 4.20, 4.18, 4.22, 4.20, 4.18, 4.18, 4.20, 4.15, 4.05,
         3.90, 3.75, 3.60, 3.50, 3.40, 3.28, 3.15, 3.00, 2.90, 2.80, 2.70]
PB_19 = [1.5, 1.5, 1.5, 1.5, 1.5, 1.5, 1.5, 1.5, 1.5, 1.5,
         1.5, 1.5, 1.5, 1.5, 1.5, 1.5, 1.5, 1.5, 1.5, 1.5,
         2.00, 3.00, 3.60, 3.75, 3.85, 3.90, 3.92, 3.95, 3.88, 3.85,
         3.80, 3.78, 3.75, 3.70, 3.65, 3.62, 3.60, 3.50, 3.45, 3.40,
         3.35, 3.25, 3.20, 3.35, 3.30, 2.90, 2.80, 3.20, 3.25, 2.70,
         2.60, 3.10, 3.20, 2.70, 2.50, 3.00, 3.10, 2.80, 2.70, 3.15,
         3.20, 2.70, 2.60, 3.00, 3.10, 2.80, 2.90, 3.20, 3.20, 2.80,
         2.70, 3.00, 3.15, 2.60, 2.50, 2.90, 3.00, 2.70, 2.80, 2.50,
         2.60, 2.40, 2.20, 2.50, 2.70, 2.40, 2.30, 2.50, 2.60, 2.30, 2.10]
SE_19 = [1.5, 1.5, 1.5, 1.5, 1.5, 1.5, 1.5, 1.5, 1.5, 1.5,
         1.5, 1.5, 1.5, 1.5, 1.5, 1.5, 1.5, 1.5, 1.5, 1.5,
         1.50, 2.00, 2.60, 3.00, 2.90, 2.30, 2.40, 3.05, 2.80, 2.20,
         2.20, 2.90, 2.70, 2.30, 2.40, 3.00, 2.85, 2.25, 2.30, 2.90,
         2.70, 2.20, 2.20, 2.80, 2.60, 2.30, 2.40, 2.90, 2.70, 2.10,
         2.20, 2.80, 2.60, 2.20, 2.30, 2.80, 2.65, 2.10, 2.20, 2.70,
         2.55, 2.20, 2.30, 2.75, 2.60, 2.10, 2.20, 2.70, 2.50, 2.10,
         2.30, 2.70, 2.55, 2.10, 2.10, 2.55, 2.40, 2.10, 2.20, 2.50,
         2.40, 2.00, 2.10, 2.40, 2.30, 1.80, 1.80, 2.30, 2.20, 1.70, 1.60]
TL_19 = [1.5, 1.5, 1.5, 1.5, 1.5, 1.5, 1.5, 1.5, 1.5, 1.5,
         1.5, 1.5, 1.5, 1.5, 1.5, 1.5, 1.5, 1.5, 1.5, 1.5,
         2.50, 3.30, 3.50, 3.45, 3.55, 3.50, 3.52, 3.46, 3.48, 3.40,
         3.45, 3.38, 3.40, 3.36, 3.35, 3.30, 3.30, 3.32, 3.28, 3.22,
         3.20, 3.24, 3.22, 3.12, 3.15, 3.10, 3.10, 3.05, 1.60, 3.00,
         3.05, 2.85, 2.90, 3.00, 3.00, 2.80, 2.85, 2.95, 2.95, 2.70,
         2.80, 2.90, 2.90, 2.70, 2.75, 2.85, 2.85, 2.60, 2.70, 2.80,
         2.80, 2.50, 2.60, 2.75, 2.75, 2.40, 2.50, 2.65, 2.65, 2.30,
         2.40, 2.20, 2.10, 2.30, 2.30, 1.80, 1.70, 2.10, 2.20, 1.60, 1.50]

# Element labels on each panel: (text, t, log10 y, arrow target or None)
NOTES_22 = [("Fe", 55, 6.86, None), ("As", 54, 5.68, None),
            ("Cu", 62.5, 5.30, (68.6, 5.05)), ("Pb", 67, 4.33, (73.4, 4.94)),
            ("Ni", 40.3, 4.42, (31.4, 3.83)), ("Zn", 54.8, 4.05, None),
            ("Co", 36.6, 2.52, (34.5, 2.92)), ("Au", 65.3, 2.29, (71.3, 2.29))]
NOTES_17 = [("Fe", 56.7, 6.94, None), ("As", 58.9, 6.45, None),
            ("Sb", 26.6, 5.18, (31, 4.5)), ("Cu", 50.3, 5.08, None),
            ("Ni", 38, 4.72, (42.4, 4.35)), ("Pb", 68.3, 5.26, (72.8, 4.77)),
            ("Co", 32.3, 3.83, (38, 4.13)), ("Zn", 42, 3.41, None),
            ("Au", 36.5, 2.42, (42, 2.4))]
NOTES_13 = [("Fe", 49.5, 6.86, None), ("As", 44.5, 6.32, None),
            ("Cu", 49, 5.63, None), ("Pb", 50.2, 4.92, (55, 4.45)),
            ("Ni", 65.7, 5.18, (70.8, 4.66)), ("Au", 40.3, 4.30, (33.8, 3.76)),
            ("Co", 67.1, 4.42, (66.2, 3.8)), ("Tl", 72.5, 4.45, (76.4, 4.2)),
            ("Zn", 67.9, 2.57, (63.5, 3.15)), ("Se", 62.5, 2.33, (60.2, 2.82))]
NOTES_19 = [("Fe", 49, 6.87, None), ("As", 47.7, 6.30, None),
            ("Cu", 49.5, 5.63, None), ("Ni", 27.5, 4.92, (30, 4.2)),
            ("Co", 15, 4.13, (24.4, 3.33)), ("Pb", 35.2, 3.98, (30.6, 3.98)),
            ("Au", 47.5, 4.25, (41.8, 3.6)), ("Zn", 74.3, 3.82, (79.3, 3.38)),
            ("Tl", 45.7, 2.15, (50.3, 2.2)), ("Se", 66, 2.32, (62.8, 2.59))]

COLORS = {"Au": "#e8231e", "Fe": "#ee5a2a", "As": "#4c94d2", "Sb": "#f2a12a",
          "Cu": "#3b2e8e", "Zn": "#1c1c3a", "Co": "#6b62c2", "Ni": "#7d33a6",
          "Pb": "#5cc03a", "Se": "#a8d2e6", "Tl": "#8c6a1e"}
LEGEND_ORDER = ["Au", "Fe", "As", "Sb", "Cu", "Zn", "Co", "Ni", "Pb", "Se", "Tl"]
DRAW_ORDER = ["Se", "Co", "Ni", "Tl", "Au", "Pb", "Sb", "Zn", "Cu", "As", "Fe"]

sns.set_style("ticks")
plt.rcParams["font.family"] = ["Liberation Serif", "Noto Sans CJK SC"]
plt.rcParams["mathtext.fontset"] = "stix"

fig = plt.figure(figsize=(10.81, 7.13), dpi=100)

panels = [
    dict(rect=[0.0611, 0.5414, 0.469, 0.4446], xlim=(0.5, 93.8), point="22", stage="Py1b",
         series={"Au": AU_22, "Fe": FE_22, "As": AS_22, "Sb": SB_22, "Cu": CU_22,
                 "Zn": ZN_22, "Co": CO_22, "Ni": NI_22, "Pb": PB_22},
         notes=NOTES_22, left=True, bottom=False, legend=True),
    dict(rect=[0.5375, 0.5414, 0.4607, 0.4446], xlim=(0.4, 91.9), point="17", stage="Py2",
         series={"Au": AU_17, "Fe": FE_17, "As": AS_17, "Sb": SB_17, "Cu": CU_17,
                 "Zn": ZN_17, "Co": CO_17, "Ni": NI_17, "Pb": PB_17},
         notes=NOTES_17, left=False, bottom=False, legend=False),
    dict(rect=[0.0611, 0.0645, 0.469, 0.4446], xlim=(0.5, 93.8), point="13", stage="Py3",
         series={"Au": AU_13, "Fe": FE_13, "As": AS_13, "Sb": SB_13, "Cu": CU_13,
                 "Zn": ZN_13, "Co": CO_13, "Ni": NI_13, "Pb": PB_13, "Se": SE_13, "Tl": TL_13},
         notes=NOTES_13, left=True, bottom=True, legend=False),
    dict(rect=[0.5375, 0.0645, 0.4607, 0.4446], xlim=(0.4, 91.9), point="19", stage="Py3",
         series={"Au": AU_19, "Fe": FE_19, "As": AS_19, "Sb": SB_19, "Cu": CU_19,
                 "Zn": ZN_19, "Co": CO_19, "Ni": NI_19, "Pb": PB_19, "Se": SE_19, "Tl": TL_19},
         notes=NOTES_19, left=False, bottom=True, legend=False),
]

for p in panels:
    for el, vals in p["series"].items():
        assert len(vals) == len(T), (p["point"], el, len(vals))

for p in panels:
    ax = fig.add_axes(p["rect"])
    ax.set_yscale("log")
    for el in DRAW_ORDER:
        if el not in p["series"]:
            continue
        sns.lineplot(x=np.array(T), y=10 ** np.array(p["series"][el]), ax=ax,
                     color=COLORS[el], linewidth=1.35, errorbar=None, legend=False)

    ax.set_xlim(*p["xlim"])
    ax.set_ylim(100, 2.1e7)
    ax.set_xticks([20, 40, 60, 80])
    ax.set_yticks([1e2, 1e3, 1e4, 1e5, 1e6])
    ax.yaxis.set_minor_locator(NullLocator())
    ax.tick_params(direction="in", length=4, width=1, labelsize=11.5, colors="#333333",
                   labelcolor="#222222")
    for s in ax.spines.values():
        s.set_color("#3a3a3a")
        s.set_linewidth(1.0)

    if p["left"]:
        ax.set_ylabel("计数", fontsize=14, labelpad=6)
    else:
        ax.set_yticklabels([])
        ax.set_ylabel("")
    if p["bottom"]:
        ax.set_xlabel("时间/s", fontsize=13)
        ax.xaxis.set_label_coords(0.536 if p["left"] else 0.555, -0.079)
    else:
        ax.set_xticklabels([])
        ax.set_xlabel("")

    # point / stage box in the corner
    ax.annotate(f"点号:{p['point']}\n期次:{p['stage']}", xy=(0, 1), xycoords="axes fraction",
                xytext=(5, -4), textcoords="offset points", ha="left", va="top",
                fontsize=12.5, linespacing=1.1, color="#222222",
                bbox=dict(boxstyle="square,pad=0.35", fc="white", ec="#3a3a3a", lw=1.0))

    for text, tx, ty, target in p["notes"]:
        size = 8.5 if (text == "Ni" and p["point"] == "13") else 12
        if target is None:
            ax.text(tx, 10 ** ty, text, fontsize=size, ha="center", va="center", color="#111111")
        else:
            ax.annotate(text, xy=(target[0], 10 ** target[1]), xytext=(tx, 10 ** ty),
                        fontsize=size, ha="center", va="center", color="#111111",
                        arrowprops=dict(arrowstyle="-|>", color="#111111", lw=0.9,
                                        mutation_scale=7, shrinkA=1, shrinkB=0))

    if p["legend"]:
        handles = [Line2D([], [], color=COLORS[el], lw=2.2) for el in LEGEND_ORDER]
        ax.legend(handles, LEGEND_ORDER, ncol=2, loc="upper left",
                  bbox_to_anchor=(0.012, 0.775), frameon=False, markerfirst=False,
                  handlelength=0.9, handletextpad=0.3, labelspacing=0.32,
                  columnspacing=1.0, borderpad=0.0,
                  prop={"family": "Liberation Serif", "weight": "bold", "size": 10})

fig.savefig("out.png", dpi=100)
